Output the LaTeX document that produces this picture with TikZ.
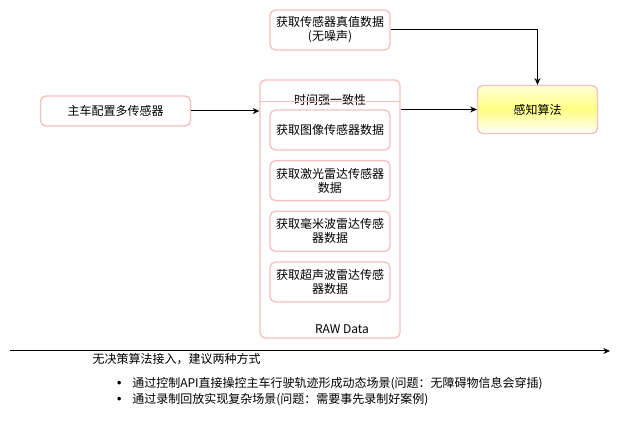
\documentclass[tikz,border=0pt]{standalone}
\usepackage{fontspec}
\setmainfont{Noto Sans CJK SC}
\usetikzlibrary{positioning, arrows.meta}
\definecolor{rim}{RGB}{245,192,190}
\definecolor{lemon}{RGB}{255,255,130}
\definecolor{lemonpale}{RGB}{255,255,215}
\newcommand{\waydot}{\makebox[9.75pt][l]{\makebox[0pt][c]{\raisebox{-1.2pt}{\scalebox{1.4}{•}}}}}

\begin{document}
\begin{tikzpicture} [x = 0.75pt, y = -0.75pt, node distance = 38pt, on grid,
    font = \fontsize{9}{10.5}\selectfont,
    sensor/.style = {draw = rim, line width = 1pt, rounded corners = 4pt, align = center,
        minimum width = 90pt, minimum height = 30pt, inner sep = 1pt},
    flow/.style = {-{Stealth[length = 5pt, width = 4.5pt]}, line width = 0.75pt}]
\useasboundingbox (0,0) rectangle (626,427);
\node (lane) [sensor, minimum width = 105pt, minimum height = 193.5pt] at (330,209) {};
\node (title) [below = 8pt of lane.north] {时间强一致性};
\node (v0) [sensor] at (330,130) {获取图像传感器数据};
\node (v1) [sensor, below = of v0] {获取激光雷达传感器\\数据};
\node (v2) [sensor, below = of v1] {获取毫米波雷达传感\\器数据};
\node (v3) [sensor, below = of v2] {获取超声波雷达传感\\器数据};
\node (raw) at (342,329) {RAW Data};
\node (host) [sensor, minimum width = 112.5pt, minimum height = 22.5pt] at (115.5,111) {主车配置多传感器};
\node (truth) [sensor] at (330,30) {获取传感器真值数据\\(无噪声)};
\node (perc) [sensor, minimum height = 36pt, top color = lemonpale, bottom color = white,
    middle color = lemon] at (537.5,109.5) {感知算法};
\coordinate (t0) at (10,351);
\coordinate (t1) at (610,351);
\node (note) [anchor = west] at (88,359) {无决策算法接入，建议两种方式};
\node (way1) [anchor = west, inner sep = 0pt] at (119,384)
    {\waydot 通过控制API直接操控主车行驶轨迹形成动态场景(问题：无障碍物信息会穿插)};
\node (way2) [anchor = west, inner sep = 0pt] at (119,400)
    {\waydot 通过录制回放实现复杂场景(问题：需要事先录制好案例)};
\draw [rim, line width = 1pt] ([yshift = -16.5pt] lane.north west) -- ([yshift = -16.5pt] lane.north east);
\draw [flow]
    (host.east) -- (host.east -| lane.west);
\draw [flow]
    (lane.east |- perc.west) -- (perc.west);
\draw [flow]
    (truth.east) -| (perc.north);
\draw [flow]
    (t0) -- (t1);
\end{tikzpicture}
\end{document}
